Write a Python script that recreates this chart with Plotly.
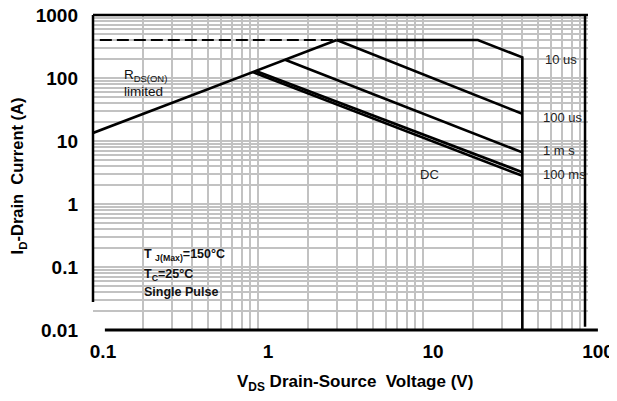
import plotly.graph_objects as go

# ---- data ----
x_ticks = [0.1, 1, 10, 100]
x_tick_text = ["0.1", "1", "10", "100"]
y_ticks = [0.01, 0.1, 1, 10, 100, 1000]
y_tick_text = ["0.01", "0.1", "1", "10", "100", "1000"]

rds_v = [0.1, 3.0]
rds_i = [13.4, 400]
limit_v = [0.11, 3.0]
limit_i = [400, 400]
us10_v = [3.0, 21.5, 40, 40]
us10_i = [400, 400, 213, 0.01]
us100_v = [3.0, 40]
us100_i = [400, 27]
ms1_v = [1.46, 40]
ms1_i = [195, 6.6]
ms100_v = [0.97, 40]
ms100_i = [129, 3.2]
dc_v = [0.93, 40]
dc_i = [124, 2.8]

FONT = "Liberation Sans, Arial, sans-serif"
LW = 2.6

fig = go.Figure()
for v, i in [(rds_v, rds_i), (us10_v, us10_i), (us100_v, us100_i),
             (ms1_v, ms1_i), (ms100_v, ms100_i), (dc_v, dc_i)]:
    fig.add_trace(go.Scatter(x=v, y=i, mode="lines",
                             line=dict(color="black", width=LW),
                             showlegend=False, hoverinfo="skip", cliponaxis=False))
fig.add_trace(go.Scatter(x=limit_v, y=limit_i, mode="lines",
                         line=dict(color="black", width=2, dash="12px,5px"),
                         showlegend=False, hoverinfo="skip"))

minor_x = [m * 10 ** e for e in range(-1, 2) for m in range(2, 10)]
minor_y = [m * 10 ** e for e in range(-2, 3) for m in range(2, 10)]
GRID = "#c2c2c2"

fig.update_xaxes(type="log", range=[-1, 2], tickvals=x_ticks, ticktext=x_tick_text,
                 showgrid=True, gridcolor=GRID, gridwidth=1.5, zeroline=False,
                 showline=False, ticks="", ticklabelshift=10, ticklabelstandoff=8,
                 automargin=False, ticklabeloverflow="allow",
                 tickfont=dict(family=FONT, size=19, color="black", weight="bold"),
                 minor=dict(tickvals=minor_x, showgrid=True, gridcolor=GRID, gridwidth=1.5))
fig.update_yaxes(type="log", range=[-2, 3], tickvals=y_ticks, ticktext=y_tick_text,
                 showgrid=True, gridcolor=GRID, gridwidth=1.5, zeroline=False,
                 showline=False, ticks="", ticklabelstandoff=14, automargin=False,
                 ticklabeloverflow="allow",
                 tickfont=dict(family=FONT, size=19, color="black", weight="bold"),
                 minor=dict(tickvals=minor_y, showgrid=True, gridcolor=GRID, gridwidth=1.5))

shapes = [
    # faded band at the bottom of the plot
    dict(type="rect", xref="paper", yref="y", x0=0, x1=1, y0=0.01, y1=0.0278,
         fillcolor="white", opacity=0.65, line=dict(width=0), layer="between"),
    # frame
    dict(type="line", xref="paper", yref="paper", x0=0, x1=1, y0=1, y1=1,
         line=dict(color="black", width=2.5)),
    dict(type="line", xref="paper", yref="y", x0=0, x1=0, y0=0.0278, y1=1000,
         line=dict(color="black", width=2.5)),
    dict(type="line", xref="paper", yref="paper", x0=0.994, x1=0.994, y0=0.01, y1=1,
         line=dict(color="black", width=2.5)),
    dict(type="line", xref="paper", yref="paper", x0=0.024, x1=1.02, y0=0, y1=0,
         line=dict(color="black", width=3)),
]

TXT = dict(family=FONT, size=12.5, color="#111")
LBL = dict(family="Liberation Sans, Arial", size=13, color="#222")
ann = [
    dict(x=-0.824, y=2.032, text="R<sub>DS(ON)</sub>", font=dict(family=FONT, size=13.5, color="#111"), xanchor="left"),
    dict(x=-0.824, y=1.778, text="limited", font=dict(family=FONT, size=13.5, color="#111"), xanchor="left"),
    dict(x=1.727, y=2.286, text="10 us", font=LBL, xanchor="left"),
    dict(x=1.715, y=1.381, text="100 us", font=LBL, xanchor="left"),
    dict(x=1.715, y=0.857, text="1 m s", font=LBL, xanchor="left"),
    dict(x=1.715, y=0.462, text="100 ms", font=LBL, xanchor="left"),
    dict(x=1.042, y=0.462, text="DC", font=LBL, xanchor="center"),
    dict(x=-0.703, y=-0.81, text="<b>T <sub>J(Max)</sub>=150°C</b>", font=TXT, xanchor="left"),
    dict(x=-0.703, y=-1.127, text="<b>T<sub>C</sub>=25°C</b>", font=TXT, xanchor="left"),
    dict(x=-0.703, y=-1.397, text="<b>Single Pulse</b>", font=TXT, xanchor="left"),
    dict(xref="paper", yref="paper", x=0.53, y=-0.168, yanchor="middle",
         text="<b>V<sub>DS</sub> Drain-Source  Voltage (V)</b>",
         font=dict(family=FONT, size=17, color="black")),
    dict(xref="paper", yref="paper", x=-0.152, y=0.49, textangle=-90, xanchor="center",
         text="<b>I<sub>D</sub>-Drain  Current (A)</b>",
         font=dict(family=FONT, size=16.5, color="black")),
]
for a in ann:
    a.setdefault("showarrow", False)
    a.setdefault("xref", "x")
    a.setdefault("yref", "y")
    a.setdefault("yanchor", "middle")

# the page body adds an 8px offset, so the figure is sized to fill the rest of the window
fig.update_layout(width=609, height=393, margin=dict(l=85, r=29, t=7, b=71),
                  plot_bgcolor="white", paper_bgcolor="white",
                  shapes=shapes, annotations=ann, showlegend=False)

fig.write_html("out.html")
